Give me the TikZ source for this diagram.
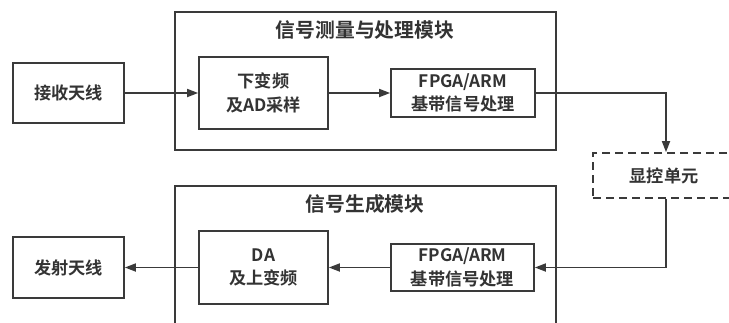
\documentclass[tikz,border=0pt]{standalone}
\usepackage{fontspec}
\setmainfont{Noto Sans CJK SC}[BoldFont={Noto Sans CJK SC Bold}]
\usetikzlibrary{arrows.meta}
\definecolor{ink}{HTML}{333333}
\definecolor{edge}{HTML}{3A3A3A}
\tikzset{
  blk/.style={draw=edge, line width=1.7pt, fill=white, text=ink, font=\fontsize{17.2}{23.5}\selectfont\bfseries, align=center, inner sep=0pt},
  modbox/.style={draw=edge, line width=1.7pt},
  modtitle/.style={text=ink, font=\fontsize{19.8}{24}\selectfont\bfseries, inner sep=0pt},
  dashbox/.style={draw=edge, line width=1.7pt, dash pattern=on 8pt off 5pt, text=ink, font=\fontsize{17.2}{23}\selectfont\bfseries, inner sep=0pt},
  conn/.style={draw=edge, line width=1.7pt, -{Triangle[length=11pt,width=8pt]}}
}
\begin{document}
\begin{tikzpicture}[x=1pt,y=-1pt]
\clip (0,0) rectangle (729,322);
\fill[white] (0,0) rectangle (729,322);
% modules
\draw[modbox] (175,12) rectangle (556,150);
\node[modtitle] (t1) at (365,30) {信号测量与处理模块};
\draw[modbox] (175,186) rectangle (556,345);
\node[modtitle] (t2) at (365,204) {信号生成模块};
% blocks
\node[blk, minimum width=111pt, minimum height=60pt] (rx) at (68.5,93) {接收天线};
\node[blk, minimum width=129pt, minimum height=72pt] (dn) at (263.5,93) {下变频\\及AD采样};
\node[blk, minimum width=144pt, minimum height=48pt] (fp1) at (463,93) {FPGA/ARM\\基带信号处理};
\node[dashbox, minimum width=142pt, minimum height=45pt] (dc) at (664,175.5) {显控单元};
\node[blk, minimum width=111pt, minimum height=61pt] (tx) at (68.5,267.5) {发射天线};
\node[blk, minimum width=129pt, minimum height=73pt] (da) at (263.5,267.5) {DA\\及上变频};
\node[blk, minimum width=143pt, minimum height=47pt] (fp2) at (462.5,267.5) {FPGA/ARM\\基带信号处理};
\coordinate (c1) at (666,93);
\coordinate (c2) at (666,267.5);
% connectors
\draw[conn] (rx) -- (dn);
\draw[conn] (dn) -- (fp1);
\draw[conn] (fp1.east) -- (c1) -- (c1 |- dc.north);
\draw[conn] (c2 |- dc.south) -- (c2) -- (fp2.east);
\draw[conn] (fp2) -- (da);
\draw[conn] (da) -- (tx);
\end{tikzpicture}
\end{document}
